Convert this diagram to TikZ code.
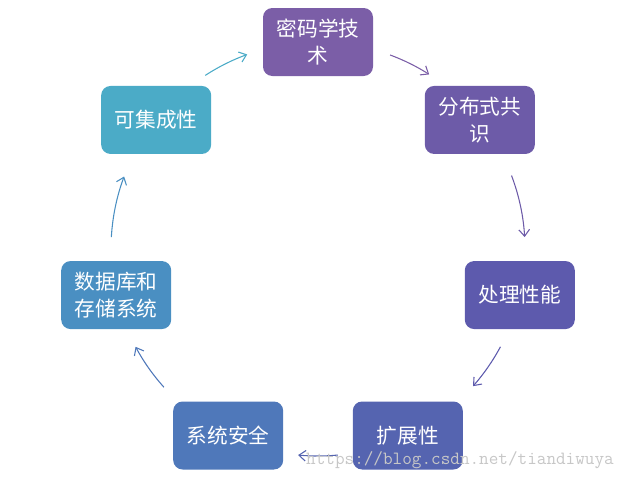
\documentclass[tikz,border=0pt]{standalone}
\usepackage{fontspec}
\newfontfamily\cjk{Noto Sans CJK SC}
\usetikzlibrary{arrows.meta}

\definecolor{mimaC}{HTML}{7B5EA7}
\definecolor{fenbuC}{HTML}{6D5BA8}
\definecolor{chuliC}{HTML}{5D5AAD}
\definecolor{kuozhanC}{HTML}{5564B0}
\definecolor{xitongC}{HTML}{4F78BA}
\definecolor{shujuC}{HTML}{4A8FC2}
\definecolor{jichengC}{HTML}{4BABC7}

\begin{document}
\begin{tikzpicture}[
    x=0.75pt, y=0.75pt,
    topic/.style={rectangle, rounded corners=7pt, fill=#1, text=white,
                  minimum width=82.5pt, minimum height=51pt, align=center,
                  font=\cjk\fontsize{15.5}{20}\selectfont},
    flow/.style={-{Straight Barb[length=5pt,width=8pt]}, draw=#1, line width=0.8pt}
]
    \useasboundingbox (0,0) rectangle (629,480);
    \coordinate (hub) at (318,231);

    \node[topic=mimaC] (mima) at ([shift={(90:207)}]hub) {密码学技\\术};
    \node[topic=fenbuC] (fenbu) at ([shift={(38.57:207)}]hub) {分布式共\\识};
    \node[topic=chuliC] (chuli) at ([shift={(-12.86:207)}]hub) {处理性能};
    \node[topic=kuozhanC] (kuozhan) at ([shift={(-64.29:207)}]hub) {扩展性};
    \node[topic=xitongC] (xitong) at ([shift={(-115.71:207)}]hub) {系统安全};
    \node[topic=shujuC] (shuju) at ([shift={(-167.14:207)}]hub) {数据库和\\存储系统};
    \node[topic=jichengC] (jicheng) at ([shift={(141.43:207)}]hub) {可集成性};

    % arcs on the same ring as the boxes
    \draw[flow=jichengC] ([shift={(123:207)}]hub) arc[start angle=123, end angle=110, radius=155.25pt];
    \draw[flow=mimaC] ([shift={(69.6:207)}]hub) arc[start angle=69.6, end angle=57.5, radius=155.25pt];
    \draw[flow=fenbuC] ([shift={(20.8:207)}]hub) arc[start angle=20.8, end angle=3.3, radius=155.25pt];
    \draw[flow=chuliC] ([shift={(-28.2:207)}]hub) arc[start angle=-28.2, end angle=-41.5, radius=155.25pt];
    \draw[flow=kuozhanC] ([shift={(-84.5:207)}]hub) arc[start angle=-84.5, end angle=-95.5, radius=155.25pt];
    \draw[flow=xitongC] ([shift={(-138.1:207)}]hub) arc[start angle=-138.1, end angle=-151.8, radius=155.25pt];
    \draw[flow=shujuC] ([shift={(176.7:207)}]hub) arc[start angle=176.7, end angle=159.5, radius=155.25pt];

    \node[text=black!22, font=\ttfamily\fontsize{14}{16}\selectfont] (mark) at (460,20) {https://blog.csdn.net/tiandiwuya};
\end{tikzpicture}
\end{document}
